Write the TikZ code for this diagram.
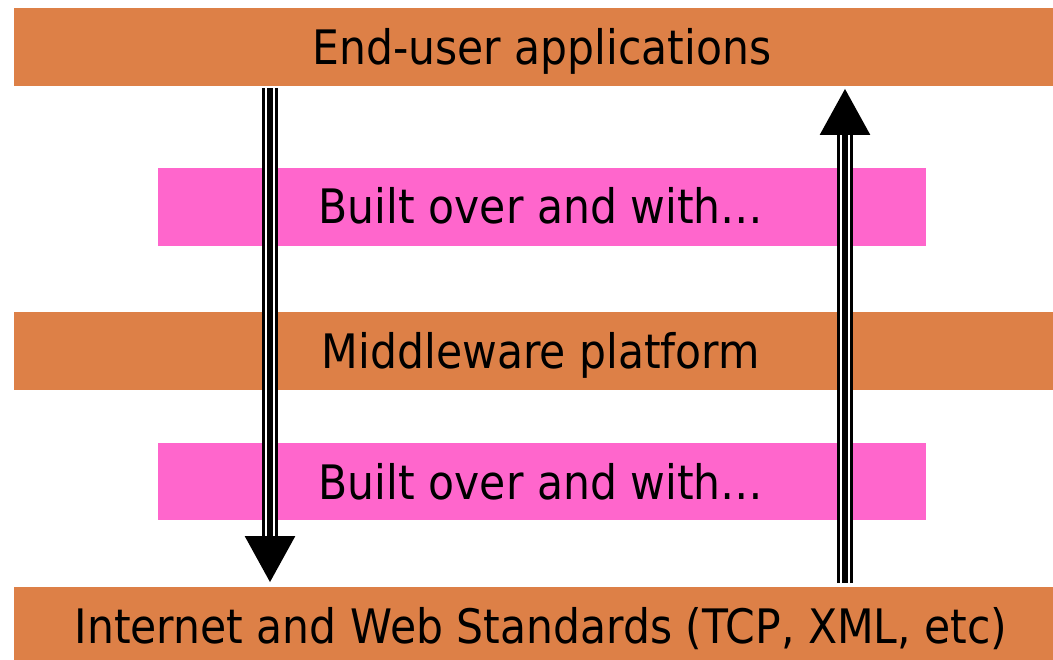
\documentclass[tikz,border=0pt]{standalone}
\usepackage{fontspec}
\setmainfont{DejaVu Sans}[FakeStretch=0.895]
\usetikzlibrary{arrows.meta}
\definecolor{barorange}{RGB}{221,128,71}
\definecolor{barpink}{RGB}{255,102,204}
\tikzset{
  layerbar/.style={fill=barorange, draw=none},
  linkbar/.style={fill=barpink, draw=none},
  bartext/.style={anchor=base, inner sep=0pt, font=\fontsize{47.5}{50}\selectfont},
  triplearrow/.style={line width=16pt, -{Triangle[width=47pt,length=47pt]}},
  gapline/.style={white, line width=2pt, shorten >=47pt},
}
\begin{document}
\begin{tikzpicture}[x=1pt,y=-1pt]
\useasboundingbox (0,0) rectangle (1053,660);
% bars
\fill[layerbar] (14,8) rectangle (1053,86);
\fill[linkbar] (158,168) rectangle (926,246);
\fill[layerbar] (14,312) rectangle (1053,390);
\fill[linkbar] (158,443) rectangle (926,520);
\fill[layerbar] (14,587) rectangle (1053,660);
% texts
\node[bartext] (apps) at (542,65) {End-user applications};
\node[bartext] (built1) at (541,224) {Built over and with…};
\node[bartext] (mid) at (541,369) {Middleware platform};
\node[bartext] (built2) at (541,499) {Built over and with…};
\node[bartext] (inet) at (541,643) {Internet and Web Standards (TCP, XML, etc)};
% arrow end points
\coordinate (dtop) at (270,88);
\coordinate (dbot) at (270,583);
\coordinate (ubot) at (845,583);
\coordinate (utop) at (845,88);
% down arrow
\draw[triplearrow] (dtop) -- (dbot);
\draw[gapline] ([xshift=-4.3pt]dtop) -- ([xshift=-4.3pt]dbot);
\draw[gapline] ([xshift=4.3pt]dtop) -- ([xshift=4.3pt]dbot);
% up arrow
\draw[triplearrow] (ubot) -- (utop);
\draw[gapline] ([xshift=-4.3pt]ubot) -- ([xshift=-4.3pt]utop);
\draw[gapline] ([xshift=4.3pt]ubot) -- ([xshift=4.3pt]utop);
\end{tikzpicture}
\end{document}
